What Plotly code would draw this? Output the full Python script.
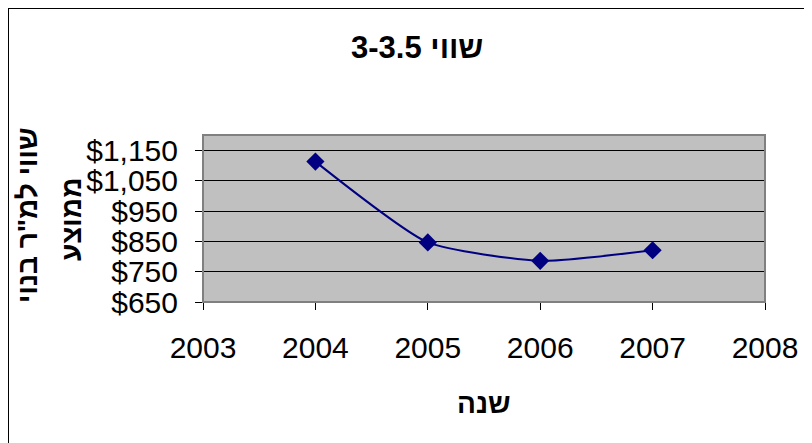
'''
    Line chart: average built value per sqm, 3-3.5 rooms, by year.
'''
import plotly.graph_objects as go

years = [2004, 2005, 2006, 2007]
values = [1114, 847, 786, 821]
y_ticks = [650, 750, 850, 950, 1050, 1150]
x_ticks = [2003, 2004, 2005, 2006, 2007, 2008]

chart_title = "שווי 3-3.5"
x_title = "שנה"
y_title_lines = ['שווי למ"ר בנוי', "ממוצע"]

# page offset of the plot div (body margin)
OX, OY = 8, 8
# plot area in page pixels
L, R, T, B = 203, 765, 135, 302
W, H = 812 - OX, 443 - OY


def px_x(p):
      return (p - L) / (R - L)


def px_y(p):
      return (B - p) / (B - T)


fig = go.Figure()

fig.add_trace(go.Scatter(
      x=years,
      y=values,
      mode='lines+markers',
      line=dict(color='#000080', width=2, shape='spline', smoothing=0.55),
      marker=dict(symbol='diamond', size=14, color='#000080'),
      showlegend=False,
      hoverinfo='skip'
))

font_family = 'Liberation Sans, Arial, sans-serif'

fig.update_layout(
      width=W,
      height=H,
      margin=dict(l=L - OX, r=812 - R, t=T - OY, b=443 - B, autoexpand=False),
      paper_bgcolor='white',
      plot_bgcolor='#C0C0C0',
      font=dict(family=font_family, color='black'),
      xaxis=dict(
            range=[2003, 2008],
            tickvals=x_ticks,
            ticktext=[str(v) for v in x_ticks],
            ticks='outside',
            ticklen=7,
            tickcolor='black',
            tickfont=dict(size=30),
            ticklabelstandoff=12,
            showgrid=False,
            showline=True,
            linecolor='black',
            linewidth=1,
            zeroline=False,
            fixedrange=True
      ),
      yaxis=dict(
            range=[650, 1202],
            tickvals=y_ticks,
            ticktext=['${:,}'.format(v) for v in y_ticks],
            ticks='outside',
            ticklen=7,
            tickcolor='black',
            tickfont=dict(size=30),
            ticklabelstandoff=11,
            showgrid=True,
            gridcolor='black',
            gridwidth=1,
            showline=True,
            linecolor='black',
            linewidth=1,
            zeroline=False,
            fixedrange=True
      ),
      shapes=[
            # gray frame of the plot area
            dict(type='rect', xref='paper', yref='paper',
                 x0=0, x1=1, y0=0, y1=1,
                 line=dict(color='#808080', width=2), layer='above'),
            # outer chart border
            dict(type='rect', xref='paper', yref='paper',
                 x0=px_x(8), x1=px_x(830), y0=px_y(460), y1=px_y(8),
                 line=dict(color='black', width=2))
      ],
      annotations=[
            dict(text='<b>' + chart_title + '</b>', xref='paper', yref='paper',
                 x=px_x(417), y=px_y(47), showarrow=False,
                 font=dict(size=31), xanchor='center', yanchor='middle'),
            dict(text='<b>' + x_title + '</b>', xref='paper', yref='paper',
                 x=px_x(484), y=px_y(403), showarrow=False,
                 font=dict(size=28), xanchor='center', yanchor='middle'),
            dict(text='<b>' + y_title_lines[0] + '</b>', xref='paper', yref='paper',
                 x=px_x(27), y=px_y(215), showarrow=False, textangle=-90,
                 font=dict(size=28), xanchor='center', yanchor='middle'),
            dict(text='<b>' + y_title_lines[1] + '</b>', xref='paper', yref='paper',
                 x=px_x(71), y=px_y(220), showarrow=False, textangle=-90,
                 font=dict(size=28), xanchor='center', yanchor='middle')
      ]
)

fig.write_html("out.html", config={'displayModeBar': False})
